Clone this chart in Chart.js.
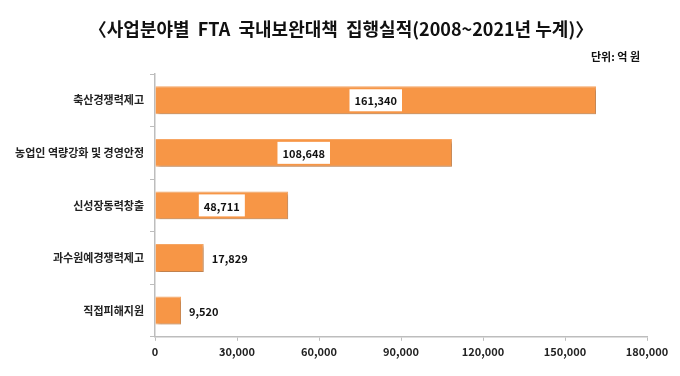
<!DOCTYPE html>
<html>
<head>
<meta charset="utf-8">
<script src="https://cdn.jsdelivr.net/npm/chart.js@4"></script>
<style>
  html, body { margin: 0; padding: 0; background: #fff; }
  #wrap { width: 680px; height: 376px; }
</style>
</head>
<body>
<div id="wrap"><canvas id="myChart"></canvas></div>
<script>
// Datas
const categories = ["축산경쟁력제고", "농업인 역량강화 및 경영안정", "신성장동력창출", "과수원예경쟁력제고", "직접피해지원"];
const amounts = [161340, 108648, 48711, 17829, 9520];
const boxedLabels = [true, true, true, false, false];
const xTicks = [0, 30000, 60000, 90000, 120000, 150000, 180000];

const titleText = '〈사업분야별  FTA  국내보완대책  집행실적(2008~2021년 누계)〉';
const unitText = '단위: 억 원';

const fontFamily = "'Noto Sans CJK KR', 'Noto Sans', sans-serif";
const fmt = v => v.toLocaleString('en-US');

// bar shadow
const shadowPlugin = {
    id: 'barShadow',
    beforeDatasetDraw(chart) {
        const ctx = chart.ctx;
        ctx.save();
        ctx.shadowColor = 'rgba(0,0,0,0.28)';
        ctx.shadowBlur = 3;
        ctx.shadowOffsetX = 2;
        ctx.shadowOffsetY = 2;
    },
    afterDatasetDraw(chart) {
        chart.ctx.restore();
    }
};

// value labels, title and unit note
const valuePlugin = {
    id: 'valueLabels',
    afterDatasetsDraw(chart) {
        const ctx = chart.ctx;
        const meta = chart.getDatasetMeta(0);
        ctx.save();
        ctx.font = "bold 11px " + fontFamily;
        ctx.textBaseline = 'middle';
        meta.data.forEach((bar, i) => {
            const text = fmt(amounts[i]);
            const w = ctx.measureText(text).width;
            if (boxedLabels[i]) {
                const cx = (bar.base + bar.x) / 2;
                ctx.fillStyle = '#fff';
                ctx.fillRect(cx - w / 2 - 5, bar.y - 11, w + 10, 22);
                ctx.fillStyle = '#111';
                ctx.textAlign = 'center';
                ctx.fillText(text, cx, bar.y + 1);
            } else {
                ctx.fillStyle = '#111';
                ctx.textAlign = 'left';
                ctx.fillText(text, bar.x + 8, bar.y + 1);
            }
        });
        // unit
        ctx.textAlign = 'right';
        ctx.fillText(unitText, 640, 57);
        // title
        ctx.textAlign = 'center';
        ctx.font = "bold 18px " + fontFamily;
        ctx.fillText(titleText, 341, 29);
        ctx.restore();
    }
};

// the chart
const myChart = new Chart('myChart', {
    type: 'bar',
    data: {
        labels: categories,
        datasets: [{
            data: amounts,
            backgroundColor: '#F79646',
            borderColor: '#F8A765',
            borderWidth: 1,
            categoryPercentage: 1,
            barPercentage: 0.53
        }]
    },
    options: {
        indexAxis: 'y',
        responsive: true,
        maintainAspectRatio: false,
        animation: false,
        layout: { padding: { top: 74, left: 0, right: 33, bottom: 14 } },
        plugins: {
            legend: { display: false },
            tooltip: { enabled: false },
            title: { display: false }
        },
        scales: {
            x: {
                min: 0,
                max: 180000,
                afterBuildTicks(scale) {
                    scale.ticks = xTicks.map(v => ({ value: v }));
                },
                border: { color: '#BDBDBD', width: 1.5 },
                grid: { drawOnChartArea: false, tickLength: 4, color: '#BDBDBD' },
                ticks: {
                    color: '#222',
                    padding: 4,
                    font: { family: fontFamily, size: 11, weight: 'bold' },
                    callback: v => fmt(v)
                }
            },
            y: {
                afterFit(scale) { scale.width = 155; },
                border: { color: '#BDBDBD', width: 1.5 },
                grid: { offset: true, drawOnChartArea: false, tickLength: 5, color: '#BDBDBD' },
                ticks: {
                    color: '#222',
                    padding: 6,
                    font: { family: fontFamily, size: 11, weight: 'bold' }
                }
            }
        }
    },
    plugins: [shadowPlugin, valuePlugin]
});
</script>
</body>
</html>
